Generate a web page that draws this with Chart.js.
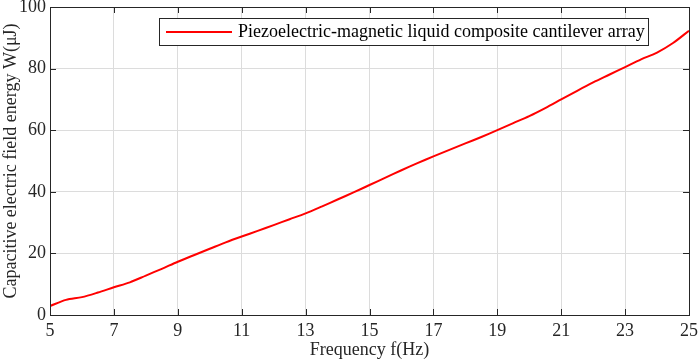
<!DOCTYPE html>
<html>
<head>
<meta charset="utf-8">
<script src="https://cdn.jsdelivr.net/npm/chart.js@4/dist/chart.umd.min.js"></script>
<style>
  html, body { margin: 0; padding: 0; background: #fff; }
  #wrap { width: 699px; height: 361px; position: relative; }
</style>
</head>
<body>
<div id="wrap"><canvas id="myChart"></canvas></div>
<script>
var freq = [5, 5.5, 6, 6.5, 7, 7.5, 8, 8.5, 9, 9.5, 10, 10.5, 11, 11.5, 12, 12.5, 13, 13.5, 14, 14.5,
            15, 15.5, 16, 16.5, 17, 17.5, 18, 18.5, 19, 19.5, 20, 20.5, 21, 21.5, 22, 22.5, 23, 23.5, 24, 24.5, 25];
var energy = [2.9, 4.9, 5.8, 7.3, 9.0, 10.6, 12.8, 15.0, 17.3, 19.4, 21.5, 23.6, 25.5, 27.3, 29.2, 31.1, 33.0, 35.2, 37.5, 39.8,
              42.2, 44.6, 47.0, 49.3, 51.5, 53.6, 55.7, 57.8, 60.0, 62.3, 64.6, 67.2, 70.0, 72.8, 75.5, 78.0, 80.5, 83.0, 85.2, 88.3, 92.3];
var xTicks = [5, 7, 9, 11, 13, 15, 17, 19, 21, 23, 25];
var yTicks = [0, 20, 40, 60, 80, 100];
var seriesName = "Piezoelectric-magnetic liquid composite cantilever array";

var points = freq.map(function (f, i) { return { x: f, y: energy[i] }; });
var font = "'Liberation Serif', 'Times New Roman', serif";

// box around plot + inward ticks (matlab look)
var boxPlugin = {
  id: "box",
  afterDraw: function (chart) {
    var c = chart.ctx, a = chart.chartArea;
    var xs = chart.scales.x, ys = chart.scales.y;
    c.save();
    c.strokeStyle = "#262626";
    c.lineWidth = 1;
    c.beginPath();
    xTicks.forEach(function (v) {
      var px = Math.round(xs.getPixelForValue(v)) + 0.5;
      c.moveTo(px, a.bottom); c.lineTo(px, a.bottom - 6);
      c.moveTo(px, a.top); c.lineTo(px, a.top + 6);
    });
    yTicks.forEach(function (v) {
      var py = Math.round(ys.getPixelForValue(v)) + 0.5;
      c.moveTo(a.left, py); c.lineTo(a.left + 6, py);
      c.moveTo(a.right, py); c.lineTo(a.right - 6, py);
    });
    c.stroke();
    c.strokeRect(Math.round(a.left) + 0.5, Math.round(a.top) + 0.5,
                 Math.round(a.right - a.left), Math.round(a.bottom - a.top));

    // legend inside plot
    var lx = 159, ly = 18, lw = 489, lh = 27;
    c.fillStyle = "#fff";
    c.fillRect(lx, ly, lw, lh);
    c.strokeRect(lx + 0.5, ly + 0.5, lw, lh);
    c.strokeStyle = "#ff0000";
    c.lineWidth = 2;
    c.beginPath();
    c.moveTo(166, ly + lh / 2 + 0.5); c.lineTo(232, ly + lh / 2 + 0.5);
    c.stroke();
    c.fillStyle = "#000";
    c.font = "18px " + font;
    c.textBaseline = "middle";
    c.fillText(seriesName, 238, ly + lh / 2 + 1);
    c.restore();
  }
};

var ctx = document.getElementById("myChart").getContext("2d");
var myChart = new Chart(ctx, {
  type: "line",
  data: {
    datasets: [{
      label: seriesName,
      data: points,
      borderColor: "#ff0000",
      borderWidth: 2,
      pointRadius: 0,
      tension: 0.3,
      fill: false
    }]
  },
  options: {
    responsive: true,
    maintainAspectRatio: false,
    animation: false,
    layout: { padding: { top: 7, right: 10, left: 0, bottom: 0 } },
    plugins: {
      legend: { display: false },
      tooltip: { enabled: false }
    },
    scales: {
      x: {
        type: "linear",
        min: 5,
        max: 25,
        afterBuildTicks: function (s) { s.ticks = xTicks.map(function (v) { return { value: v }; }); },
        afterFit: function (s) { s.height = 46; s.paddingLeft = 0; s.paddingRight = 0; },
        grid: { color: "#dcdcdc", drawTicks: false },
        border: { display: false },
        ticks: { color: "#262626", font: { family: font, size: 18 }, padding: 5, maxRotation: 0 },
        title: { display: true, text: "Frequency f(Hz)", color: "#262626", font: { family: font, size: 18 }, padding: { top: 0, bottom: 0 } }
      },
      y: {
        min: 0,
        max: 100,
        afterBuildTicks: function (s) { s.ticks = yTicks.map(function (v) { return { value: v }; }); },
        afterFit: function (s) { s.width = 50; s.paddingTop = 0; s.paddingBottom = 0; },
        grid: { color: "#dcdcdc", drawTicks: false },
        border: { display: false },
        ticks: { color: "#262626", font: { family: font, size: 18 }, padding: 4 },
        title: { display: true, text: "Capacitive electric field energy W(\u03bcJ)", color: "#262626", font: { family: font, size: 18 }, padding: { top: 0, bottom: 0 } }
      }
    }
  },
  plugins: [boxPlugin]
});
</script>
</body>
</html>
